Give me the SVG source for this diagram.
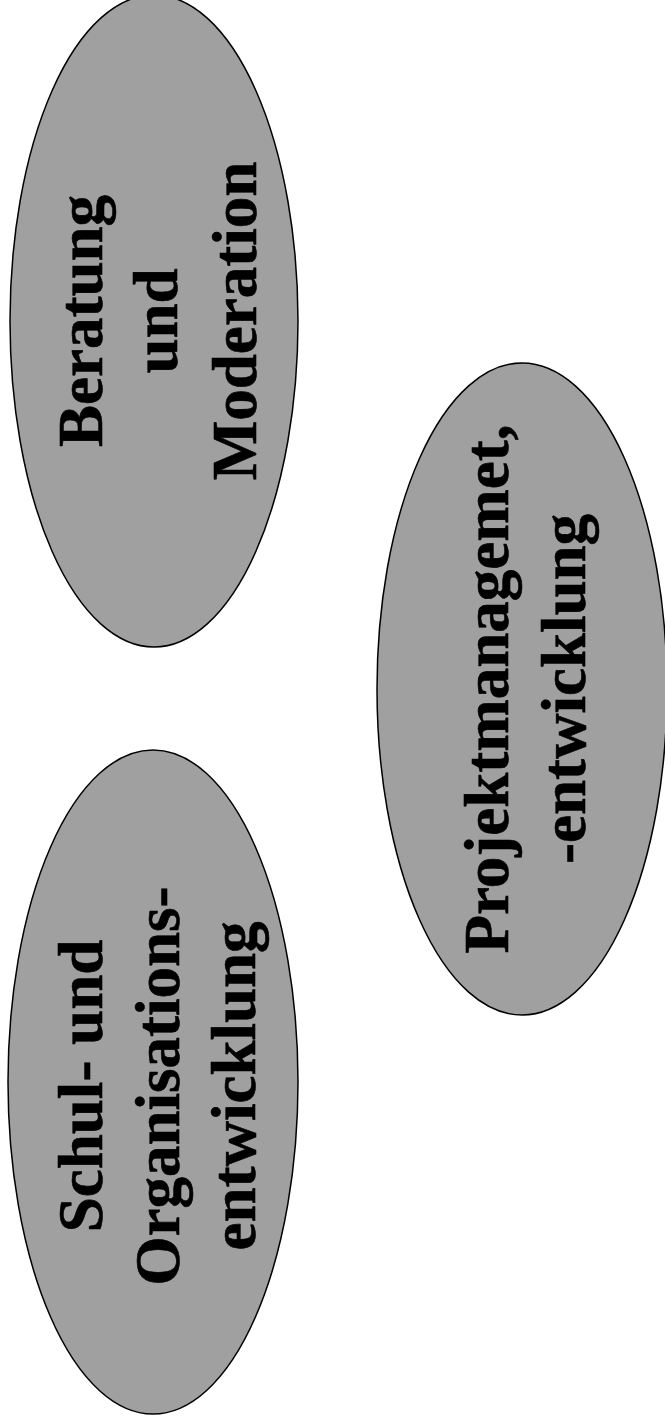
<svg xmlns="http://www.w3.org/2000/svg" width="665" height="1427" viewBox="0 0 665 1427">
<style>
.node{fill:#a0a0a0;stroke:#000;stroke-width:1.5}
.lbl{font-family:"Liberation Serif","Times New Roman",serif;font-weight:bold;font-size:63px;fill:#000;stroke:#000;stroke-width:0.6;text-anchor:middle}
</style>
<rect width="665" height="1427" fill="#fff"/>
<g id="connectors"></g>
<g id="node-beratung">
<ellipse class="node" cx="154" cy="321" rx="144" ry="326"/>
<g transform="translate(154,321) rotate(-90)">
<text class="lbl" x="0" y="-52">Beratung</text>
<text class="lbl" x="0" y="23">und</text>
<text class="lbl" x="0" y="102">Moderation</text>
</g>
</g>
<g id="node-projekt">
<ellipse class="node" cx="522" cy="689" rx="145" ry="326"/>
<g transform="translate(522,689) rotate(-90)">
<text class="lbl" x="0" y="-14">Projektmanagemet,</text>
<text class="lbl" x="0" y="63">-entwicklung</text>
</g>
</g>
<g id="node-schul">
<ellipse class="node" cx="153" cy="1082" rx="145" ry="332"/>
<g transform="translate(153,1086) rotate(-90)">
<text class="lbl" x="0" y="-51">Schul- und</text>
<text class="lbl" x="0" y="26">Organisations-</text>
<text class="lbl" x="0" y="102">entwicklung</text>
</g>
</g>
</svg>
